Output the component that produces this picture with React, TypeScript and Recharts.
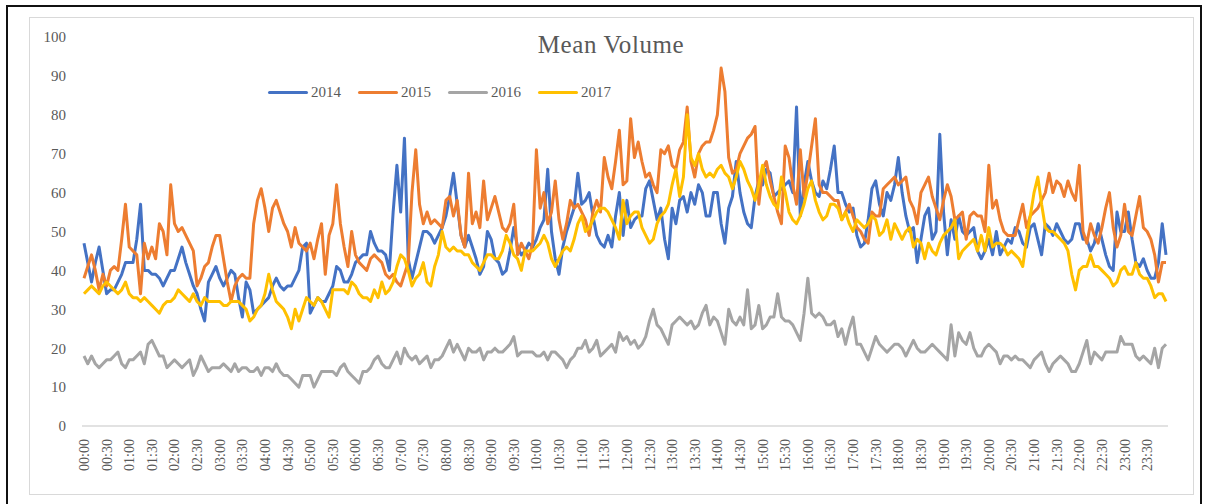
import { LineChart, Line, XAxis, YAxis } from 'recharts'

// 5-minute slots over a day: 00:00 ... 23:55
const times = Array.from({ length: 288 }, (_, i) => {
  const m = i * 5
  return `${String(Math.floor(m / 60)).padStart(2, '0')}:${String(m % 60).padStart(2, '0')}`
})

const yTicks = [0, 10, 20, 30, 40, 50, 60, 70, 80, 90, 100]

const vol2014 = [
  47, 42, 37, 42, 46, 40, 34, 35, 35, 37, 39, 42,
  42, 42, 48, 57, 40, 40, 39, 39, 38, 36, 38, 40,
  40, 43, 46, 42, 39, 36, 34, 30, 27, 37, 39, 41,
  38, 36, 38, 40, 39, 33, 28, 37, 35, 29, 30, 31,
  32, 33, 36, 38, 36, 35, 36, 36, 38, 40, 46, 47,
  29, 31, 33, 32, 32, 34, 36, 41, 40, 37, 37, 39,
  42, 43, 44, 44, 50, 47, 45, 45, 44, 40, 55, 67,
  55, 74, 43, 38, 42, 46, 50, 50, 49, 47, 49, 51,
  54, 59, 65, 57, 49, 46, 49, 46, 43, 39, 41, 50,
  48, 43, 42, 39, 40, 45, 51, 46, 44, 45, 47, 46,
  48, 51, 53, 66, 50, 43, 39, 46, 50, 53, 56, 65,
  57, 58, 60, 54, 49, 47, 46, 49, 46, 54, 60, 49,
  58, 51, 53, 54, 54, 61, 63, 58, 53, 56, 48, 43,
  56, 52, 58, 59, 55, 60, 57, 62, 60, 54, 54, 60,
  60, 52, 47, 56, 59, 68, 60, 55, 52, 51, 59, 63,
  62, 66, 65, 59, 60, 61, 62, 63, 60, 82, 54, 62,
  68, 63, 60, 59, 63, 61, 66, 72, 60, 60, 57, 55,
  56, 49, 46, 47, 53, 61, 63, 57, 54, 60, 58, 62,
  69, 60, 54, 50, 51, 42, 48, 54, 56, 48, 50, 75,
  55, 44, 53, 48, 54, 50, 49, 50, 51, 45, 43, 45,
  48, 44, 50, 44, 46, 48, 47, 51, 50, 47, 46, 51,
  52, 48, 44, 52, 51, 49, 52, 50, 48, 47, 48, 52,
  52, 48, 48, 45, 47, 52, 48, 44, 41, 40, 55, 50,
  50, 55, 48, 42, 41, 43, 40, 38, 38, 42, 52, 44,
]

const vol2015 = [
  38, 41, 44, 40, 35, 39, 36, 40, 41, 40, 48, 57,
  46, 45, 44, 34, 47, 43, 46, 43, 52, 50, 44, 62,
  52, 50, 51, 49, 47, 45, 36, 38, 41, 42, 46, 49,
  49, 43, 37, 32, 36, 38, 39, 38, 38, 52, 58, 61,
  56, 50, 56, 58, 55, 52, 50, 46, 51, 47, 46, 45,
  47, 43, 48, 52, 39, 49, 52, 62, 52, 46, 41, 50,
  44, 42, 41, 40, 43, 44, 43, 42, 39, 38, 39, 37,
  36, 39, 42, 60, 71, 57, 52, 55, 52, 53, 52, 51,
  58, 59, 54, 58, 49, 46, 65, 52, 55, 51, 63, 53,
  56, 59, 55, 51, 50, 52, 57, 44, 47, 45, 43, 47,
  71, 56, 60, 52, 55, 63, 53, 48, 52, 58, 56, 57,
  55, 53, 49, 55, 58, 55, 69, 64, 61, 68, 76, 62,
  63, 79, 69, 73, 68, 64, 65, 62, 60, 71, 70, 72,
  67, 66, 71, 73, 82, 68, 64, 70, 72, 73, 73, 76,
  80, 92, 86, 69, 65, 66, 70, 72, 74, 75, 77, 57,
  66, 68, 63, 59, 55, 52, 72, 69, 62, 57, 71, 59,
  65, 72, 79, 62, 60, 60, 59, 58, 58, 53, 55, 57,
  54, 51, 50, 48, 47, 55, 54, 54, 61, 62, 63, 64,
  62, 63, 64, 58, 56, 52, 60, 62, 64, 59, 56, 53,
  58, 62, 59, 53, 54, 55, 48, 54, 55, 54, 54, 50,
  67, 56, 58, 53, 50, 49, 49, 49, 53, 57, 51, 54,
  55, 56, 58, 60, 65, 60, 63, 62, 59, 63, 60, 58,
  67, 50, 47, 52, 49, 47, 51, 56, 60, 51, 46, 49,
  57, 50, 49, 54, 59, 51, 50, 48, 44, 37, 42, 42,
]

const vol2016 = [
  18, 16, 18, 16, 15, 16, 17, 17, 18, 19, 16, 15,
  17, 17, 18, 19, 16, 21, 22, 20, 18, 18, 15, 16,
  17, 16, 15, 16, 17, 13, 15, 18, 16, 14, 15, 15,
  15, 16, 15, 14, 16, 14, 15, 15, 14, 14, 15, 13,
  15, 15, 14, 16, 14, 13, 13, 12, 11, 10, 13, 13,
  13, 10, 12, 14, 14, 14, 14, 13, 15, 16, 14, 13,
  12, 11, 14, 14, 15, 17, 18, 16, 15, 15, 17, 19,
  16, 20, 18, 17, 18, 16, 17, 18, 15, 17, 17, 18,
  20, 22, 19, 21, 19, 17, 20, 19, 19, 20, 17, 19,
  19, 20, 19, 19, 20, 21, 23, 18, 19, 19, 19, 19,
  18, 18, 19, 17, 19, 19, 18, 17, 15, 17, 18, 20,
  20, 22, 19, 20, 22, 18, 19, 20, 21, 19, 24, 22,
  23, 21, 22, 20, 21, 23, 27, 30, 26, 25, 23, 21,
  26, 27, 28, 27, 26, 27, 25, 26, 29, 31, 26, 28,
  27, 24, 21, 30, 27, 26, 28, 26, 35, 25, 26, 31,
  25, 26, 28, 28, 34, 28, 27, 27, 26, 24, 22, 29,
  38, 29, 28, 29, 28, 26, 26, 27, 23, 25, 21, 25,
  28, 21, 21, 19, 17, 20, 23, 21, 20, 19, 20, 21,
  21, 20, 18, 20, 22, 20, 19, 19, 20, 21, 20, 19,
  18, 17, 26, 18, 24, 22, 21, 24, 20, 18, 18, 20,
  21, 20, 19, 16, 18, 18, 17, 18, 17, 17, 16, 15,
  17, 18, 19, 16, 14, 16, 17, 18, 17, 16, 14, 14,
  16, 19, 22, 16, 19, 18, 17, 19, 19, 19, 19, 23,
  21, 21, 21, 18, 17, 18, 17, 16, 20, 15, 20, 21,
]

const vol2017 = [
  34, 35, 36, 35, 34, 36, 37, 36, 35, 34, 35, 37,
  34, 33, 33, 32, 33, 32, 31, 30, 29, 31, 32, 32,
  33, 35, 34, 33, 32, 34, 32, 31, 33, 32, 32, 32,
  32, 31, 31, 32, 32, 32, 31, 30, 27, 28, 30, 31,
  34, 39, 35, 32, 31, 30, 28, 25, 30, 27, 30, 33,
  32, 31, 33, 32, 30, 28, 35, 35, 35, 35, 34, 37,
  36, 34, 33, 33, 32, 35, 33, 37, 34, 35, 37, 41,
  44, 43, 40, 36, 38, 39, 42, 37, 36, 41, 44, 50,
  46, 45, 46, 45, 45, 44, 44, 42, 41, 40, 42, 44,
  44, 43, 43, 45, 49, 47, 44, 43, 40, 45, 45, 45,
  46, 47, 49, 47, 43, 41, 43, 45, 46, 45, 48, 52,
  54, 50, 51, 53, 55, 56, 56, 55, 53, 51, 48, 58,
  52, 54, 55, 55, 51, 49, 47, 48, 52, 54, 55, 57,
  62, 66, 59, 64, 80, 69, 67, 70, 66, 64, 65, 64,
  66, 67, 65, 64, 61, 64, 68, 66, 63, 61, 58, 62,
  67, 62, 59, 57, 56, 64, 60, 55, 53, 52, 54, 57,
  61, 63, 58, 55, 53, 54, 57, 57, 56, 53, 55, 52,
  50, 53, 52, 51, 52, 54, 53, 49, 50, 53, 48, 52,
  50, 48, 50, 51, 46, 48, 47, 43, 47, 45, 44, 47,
  49, 50, 51, 53, 43, 45, 46, 47, 48, 45, 49, 45,
  51, 46, 47, 47, 46, 44, 45, 44, 43, 41, 48, 54,
  60, 64, 57, 51, 50, 50, 49, 48, 47, 45, 39, 35,
  40, 41, 41, 44, 41, 41, 40, 39, 38, 36, 37, 40,
  41, 39, 39, 42, 39, 38, 38, 36, 33, 34, 34, 32,
]

const series = [
  { key: 'y2014', name: '2014', color: '#4472C4', values: vol2014 },
  { key: 'y2015', name: '2015', color: '#ED7D31', values: vol2015 },
  { key: 'y2016', name: '2016', color: '#A5A5A5', values: vol2016 },
  { key: 'y2017', name: '2017', color: '#FFC000', values: vol2017 },
]

const data = times.map((t, i) => {
  const row: Record<string, string | number> = { t }
  series.forEach(s => { row[s.key] = s.values[i] })
  return row
})

const FONT = '"Liberation Serif", "Times New Roman", serif'
const TEXT = '#595959'

function TimeTick({ x, y, payload }: any) {
  const ax = x + 5
  const ay = y + 5
  return (
    <text x={ax} y={ay} transform={`rotate(-90, ${ax}, ${ay})`} textAnchor="end"
      fontSize={14} fill={TEXT} fontFamily={FONT}>
      {payload.value}
    </text>
  )
}

function YearLegend() {
  return (
    <div style={{ display: 'flex', alignItems: 'center', fontFamily: FONT, fontSize: 15, color: TEXT }}>
      {series.map(s => (
        <div key={s.key} style={{ display: 'flex', alignItems: 'center', marginRight: 17 }}>
          <span style={{ display: 'inline-block', width: 40, height: 3, borderRadius: 2, background: s.color }} />
          <span style={{ marginLeft: 3 }}>{s.name}</span>
        </div>
      ))}
    </div>
  )
}

export default function App() {
  return (
    <div style={{ position: 'absolute', left: 0, top: 0, width: 1210, height: 504, background: '#fff', overflow: 'hidden' }}>
      {/* outer frame */}
      <div style={{ position: 'absolute', left: 6, top: 5, width: 1196, height: 520, border: '2px solid #111', boxSizing: 'border-box' }} />
      {/* chart area border */}
      <div style={{ position: 'absolute', left: 29, top: 17, width: 1165, height: 478, border: '1px solid #d9d9d9', boxSizing: 'border-box' }} />

      <div style={{ position: 'absolute', left: 461, top: 30, width: 300, textAlign: 'center', fontFamily: FONT, fontSize: 25, letterSpacing: 0.6, color: TEXT, lineHeight: '30px' }}>
        Mean Volume
      </div>

      <div style={{ position: 'absolute', left: 0, top: 0 }}>
        <LineChart width={1210} height={504} data={data}
          margin={{ top: 37, right: 42, bottom: 18, left: 32 }}>
          <XAxis dataKey="t" interval={5} tickLine={false} height={60}
            axisLine={{ stroke: '#d9d9d9', strokeWidth: 1.5 }}
            padding={{ left: 2, right: 2 }} tick={<TimeTick />} />
          <YAxis domain={[0, 100]} ticks={yTicks} width={50} axisLine={false} tickLine={false}
            tickMargin={10} tick={{ fontSize: 15, fill: TEXT, fontFamily: FONT }} />
          {series.map(s => (
            <Line key={s.key} dataKey={s.key} name={s.name} stroke={s.color} strokeWidth={3}
              dot={false} type="linear" isAnimationActive={false} strokeLinejoin="round" />
          ))}
        </LineChart>
      </div>

      <div style={{ position: 'absolute', top: 84, left: 268 }}>
        <YearLegend />
      </div>
    </div>
  )
}
